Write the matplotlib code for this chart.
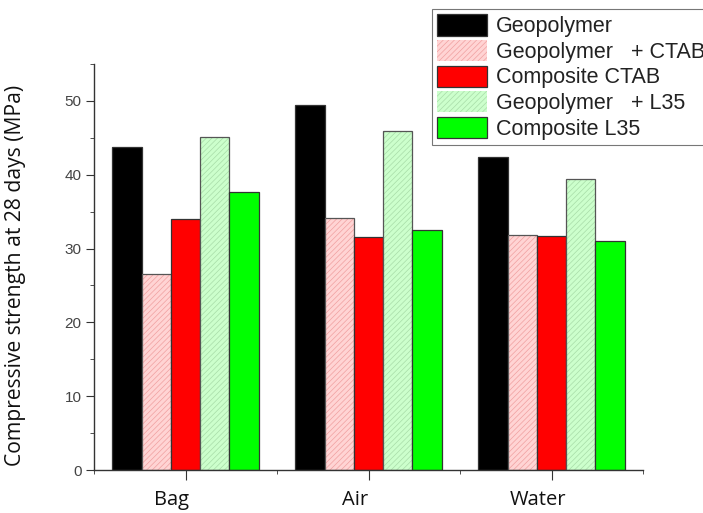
import matplotlib
matplotlib.use("Agg")
import matplotlib.pyplot as plt
from matplotlib.ticker import MultipleLocator, FixedLocator
from matplotlib.transforms import blended_transform_factory
import numpy as np

plt.rcParams['hatch.linewidth'] = 0.5

groups = ["Bag", "Air", "Water"]
series = ["Geopolymer", "Geopolymer   + CTAB", "Composite CTAB", "Geopolymer   + L35", "Composite L35"]
values = {
    "Geopolymer": [43.7, 49.5, 42.4],
    "Geopolymer   + CTAB": [26.5, 34.2, 31.8],
    "Composite CTAB": [34.0, 31.6, 31.7],
    "Geopolymer   + L35": [45.1, 45.9, 39.4],
    "Composite L35": [37.6, 32.5, 31.0],
}
faces = ["#000000", "#FFD4D4", "#FF0000", "#CCFFCC", "#00FF00"]
hatchcol = [None, "#F0A0A0", None, "#A8DCA8", None]
hatches = [None, "//////", None, "//////", None]

fig = plt.figure(figsize=(7.03, 5.13), dpi=100)
ax = fig.add_axes([94/703, 43/513, 549/703, 406/513])

x = np.arange(1, len(groups) + 1)
w = 0.16
handles = []
for i, s in enumerate(series):
    off = (i - 2) * w
    if hatches[i]:
        b = ax.bar(x + off, values[s], w, color=faces[i], edgecolor=hatchcol[i],
                   hatch=hatches[i], linewidth=0)
        ax.bar(x + off, values[s], w, fill=False, edgecolor="#555555", linewidth=0.9)
    else:
        b = ax.bar(x + off, values[s], w, color=faces[i], edgecolor="#333333", linewidth=0.9)
    handles.append(b)

ax.set_xlim(0.5, 3.5)
ax.set_ylim(0, 55)
for sp in ["top", "right"]:
    ax.spines[sp].set_visible(False)
for sp in ["left", "bottom"]:
    ax.spines[sp].set_color("#333333")
    ax.spines[sp].set_linewidth(1.0)

ax.set_xticks(x)
ax.set_xticklabels([])
trans = blended_transform_factory(ax.transData, ax.transAxes)
for xi, g in zip(x, groups):
    ax.text(xi - 0.075, -0.086, g, transform=trans, ha="center", va="baseline",
            fontsize=14.5, family=["Open Sans", "DejaVu Sans"], color="#111111")
ax.xaxis.set_minor_locator(FixedLocator([0.5, 1.5, 2.5, 3.5]))
ax.yaxis.set_major_locator(MultipleLocator(10))
ax.yaxis.set_minor_locator(MultipleLocator(5))
ax.tick_params(axis="x", which="major", direction="out", length=7, color="#333333")
ax.tick_params(axis="x", which="minor", direction="out", length=3, color="#333333")
ax.tick_params(axis="y", which="major", direction="out", length=6, pad=3, labelsize=11,
               labelcolor="#444444", color="#333333")
ax.tick_params(axis="y", which="minor", direction="out", length=3, color="#333333")
for t in ax.get_yticklabels():
    t.set_family(["Liberation Sans", "DejaVu Sans"])

ax.set_ylabel("Compressive strength at 28 days (MPa)", fontsize=15.2,
              family=["Open Sans", "DejaVu Sans"], color="#111111")
ax.yaxis.set_label_coords(-0.124, 0.479)

leg = fig.legend(handles, series, loc="upper left", bbox_to_anchor=(432/703, 1 - 9/513),
                 prop={"family": "Liberation Sans", "size": 15.5},
                 frameon=True, fancybox=False, edgecolor="#555555",
                 handlelength=2.3, handleheight=1.15, labelspacing=0.12,
                 borderpad=0.25, handletextpad=0.4, borderaxespad=0)
leg.get_frame().set_linewidth(0.8)
for t in leg.get_texts():
    t.set_color("#222222")

fig.savefig("out.png", dpi=100)
